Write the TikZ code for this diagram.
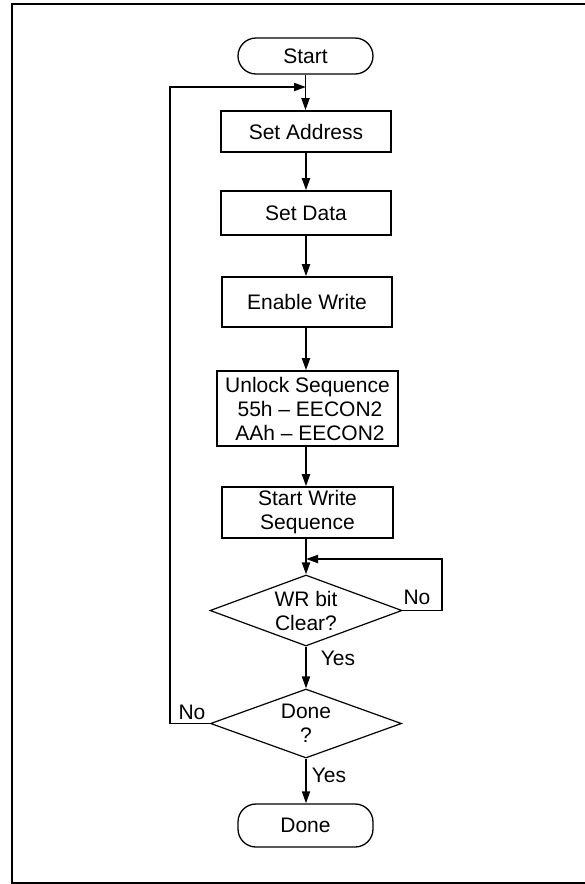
\documentclass[tikz,border=0pt]{standalone}
\usepackage{fontspec}
\setmainfont{Liberation Sans}
\usetikzlibrary{shapes.geometric,arrows.meta}
\begin{document}
\begin{tikzpicture}[x=1pt,y=1pt,
  every node/.style={font=\fontsize{21}{24}\selectfont},
  box/.style={draw,line width=1.6pt,inner sep=2pt,align=center},
  term/.style={draw,line width=1.3pt,rounded corners=18pt,minimum width=135pt},
  dia/.style={draw,diamond,line width=1.2pt,inner sep=0pt},
  flow/.style={line width=1.8pt,-{Triangle[length=12pt,width=8pt]}},
  lbl/.style={inner sep=0pt}]
\useasboundingbox (0,0) rectangle (584,-884);
\draw[line width=1.7pt] (592,-4) -- (12,-4) -- (12,-883) -- (592,-883);

\node[term, minimum height=36pt] (start) at (305.5,-56) {Start};
\node[box, minimum width=170pt, minimum height=41pt] (addr) at (306,-131.5) {Set Address};
\node[box, minimum width=170pt, minimum height=44pt] (data) at (306,-213) {Set Data};
\node[box, minimum width=170pt, minimum height=50pt] (en) at (307,-302) {Enable Write};
\node[box, minimum width=181pt, minimum height=75pt] (unl) at (307.5,-408.5) {Unlock Sequence\\\hspace*{5pt}55h -- EECON2\\\hspace*{5pt}AAh -- EECON2};
\node[box, minimum width=171pt, minimum height=51pt] (sw) at (307.5,-512.5) {Start Write\\Sequence};
\node[dia, minimum width=192pt, minimum height=71pt, label={[align=center,lbl]center:WR bit\\Clear?}] (wr) at (306,-610.5) {};
\node[dia, minimum width=191pt, minimum height=69pt, label={[align=center,lbl]center:Done\\?}] (done) at (306,-723.5) {};
\node[term, minimum height=43pt] (end) at (305.5,-825.5) {Done};

\coordinate (j1) at (306,-87);
\coordinate (j2) at (306,-559);

\draw[flow] (start.south) -- (start.south |- addr.north);
\draw[flow] (addr.south) -- (addr.south |- data.north);
\draw[flow] (data.south) -- (data.south |- en.north);
\draw[flow] (addr.south |- en.south) -- (addr.south |- unl.north);
\draw[flow] (addr.south |- unl.south) -- (addr.south |- sw.north);
\draw[flow] (addr.south |- sw.south) -- (wr.north);
\draw[flow] (wr.south) -- (done.north);
\draw[flow] (done.south) -- (done.south |- end.north);

\draw[flow] (wr.east) -- ++(39,0) |- (j2);
\draw[flow] (done.west) -- ++(-40,0) |- (j1);

\node[lbl] (no1) at (417,-597) {No};
\node[lbl] (yes1) at (338,-658) {Yes};
\node[lbl] (no2) at (192,-712) {No};
\node[lbl] (yes2) at (329,-775) {Yes};
\end{tikzpicture}
\end{document}
